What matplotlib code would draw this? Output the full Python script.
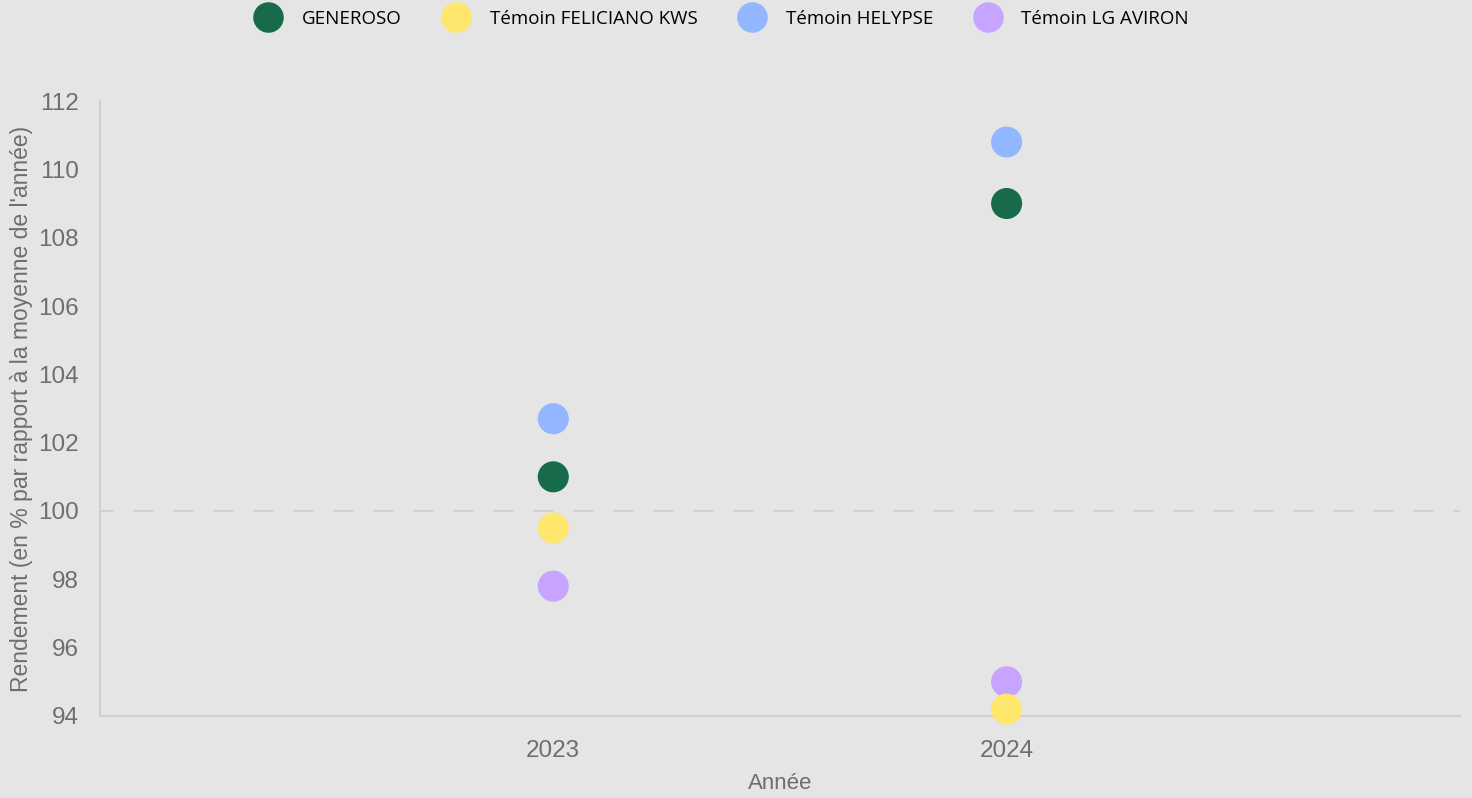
"""Rendement par année : GENEROSO et témoins."""

import matplotlib

matplotlib.use("Agg")
import matplotlib.pyplot as plt  # noqa: E402
from matplotlib.lines import Line2D  # noqa: E402

years = [2023, 2024]
varieties = ["GENEROSO", "Témoin FELICIANO KWS", "Témoin HELYPSE", "Témoin LG AVIRON"]
generoso = [101.0, 109.0]
feliciano = [99.5, 94.2]
helypse = [102.7, 110.8]
aviron = [97.8, 95.0]
yticks = [94, 96, 98, 100, 102, 104, 106, 108, 110, 112]

_COLORS = ["#176b4b", "#ffe66d", "#92b6ff", "#c6a4ff"]
BG = "#e5e5e5"
GREY = "#6e6e6e"

fig = plt.figure(figsize=(14.72, 7.98), dpi=100, facecolor=BG)
ax = fig.add_axes([0.0679, 0.1028, 0.9239, 0.7706], facecolor=BG)

ax.axhline(100, color="#cccccc", lw=1.2, ls=(4, (12, 12)), zorder=1)

series = [generoso, feliciano, helypse, aviron]
order = [2, 0, 3, 1]  # draw order, yellow on top
for i in order:
    ax.scatter(years, series[i], s=500, color=_COLORS[i], edgecolors="none",
               zorder=3, clip_on=False)

ax.set_xlim(2022, 2025)
ax.set_ylim(94, 112)
ax.set_xticks(years)
ax.set_xticklabels([str(y) for y in years])
ax.set_yticks(yticks)
ax.tick_params(length=0, labelsize=17.5, labelcolor=GREY)
ax.tick_params(axis="y", pad=15)
ax.tick_params(axis="x", pad=17)
for lab in ax.get_xticklabels() + ax.get_yticklabels():
    lab.set_family("Liberation Sans")

for side in ("top", "right"):
    ax.spines[side].set_visible(False)
for side in ("left", "bottom"):
    ax.spines[side].set_color("#cfcfcf")
    ax.spines[side].set_linewidth(1.5)

ax.set_xlabel("Année", fontsize=16, color=GREY, family="Liberation Sans",
              labelpad=8)
ax.set_ylabel("Rendement (en % par rapport à la moyenne de l'année)",
              fontsize=16.5, color=GREY, family="Liberation Sans", labelpad=4)

handles = [Line2D([], [], ls="none", marker="o", ms=22, color=c, mec="none")
           for c in _COLORS]
fig.legend(handles, varieties, loc="center", ncol=4,
           bbox_to_anchor=(0.49, 1 - 19 / 798), frameon=False,
           prop={"family": "Open Sans", "size": 13.5},
           handletextpad=1.0, columnspacing=2.1, handlelength=1.6,
           borderaxespad=0)

fig.savefig("out.png", dpi=100, facecolor=BG)
plt.close(fig)
